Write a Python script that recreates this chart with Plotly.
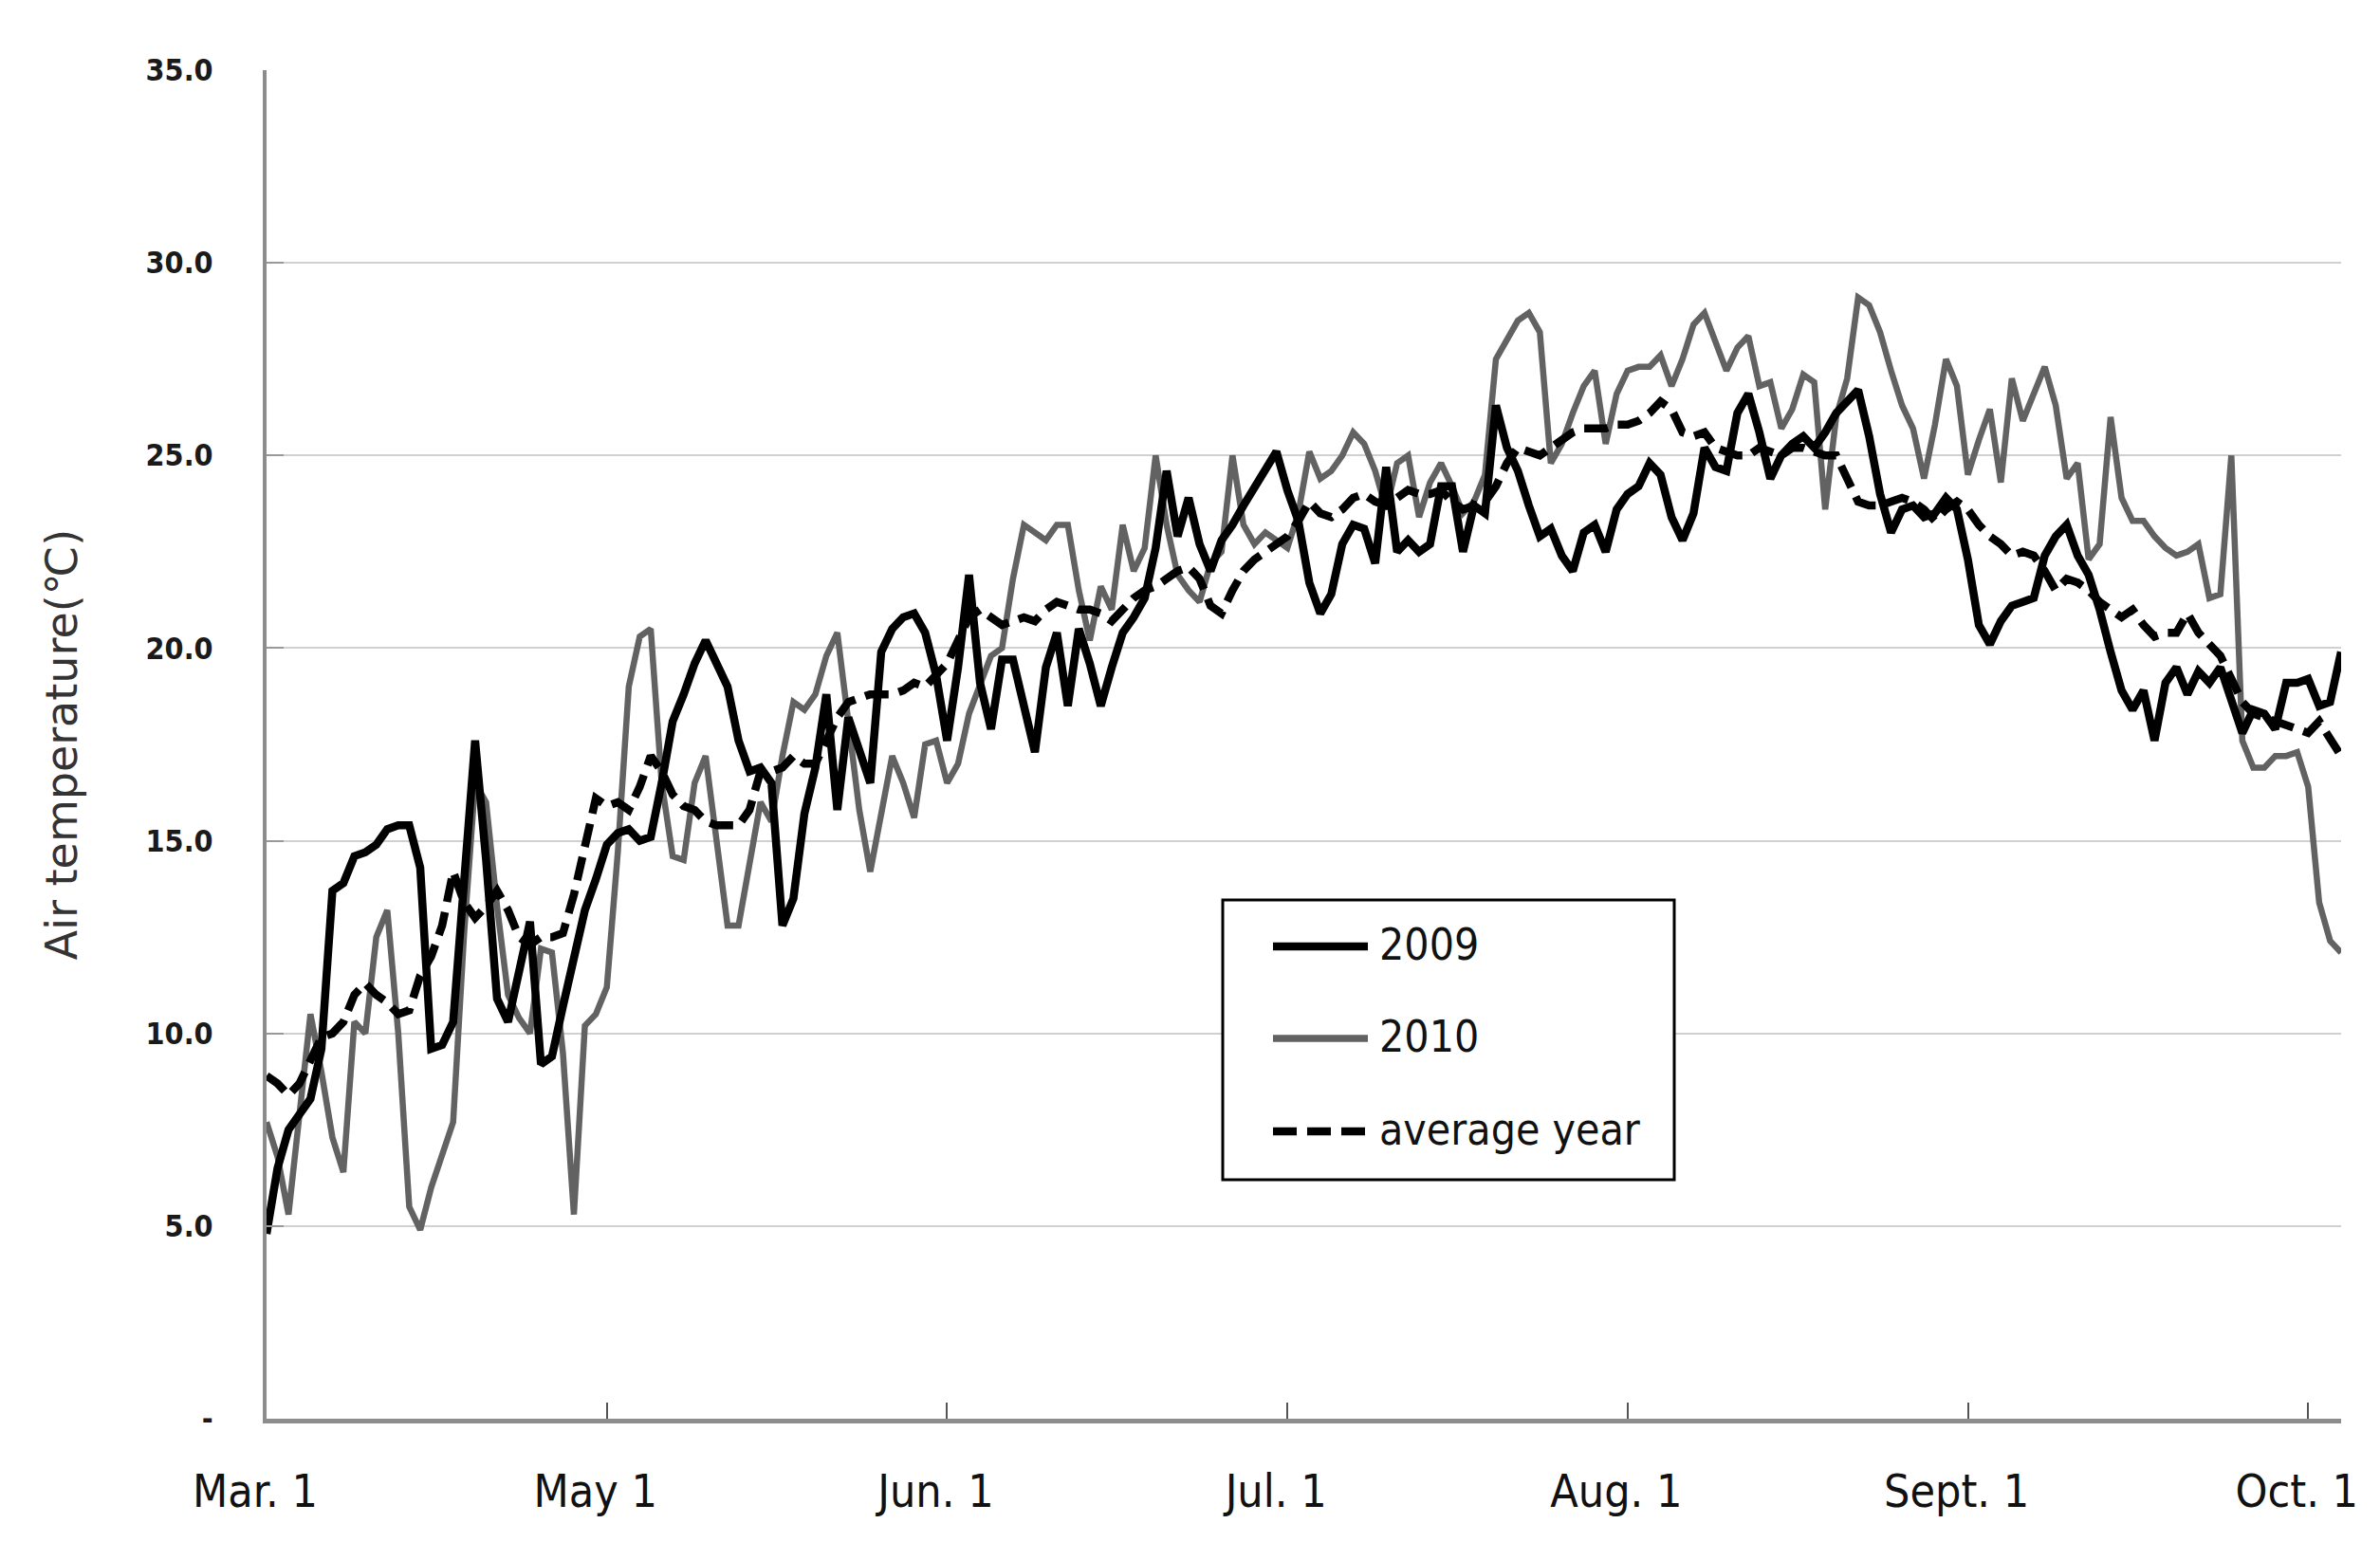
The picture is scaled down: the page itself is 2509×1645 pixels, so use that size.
import plotly.graph_objects as go

# ---------------- data ----------------
days = list(range(190))
x_tick_vals = [0, 31, 62, 93, 124, 155, 186]
x_tick_text = ["Mar. 1", "May 1", "Jun. 1", "Jul. 1", "Aug. 1", "Sept. 1", "Oct. 1"]
y_tick_vals = [0, 5, 10, 15, 20, 25, 30, 35]
y_tick_text = ["-", "5.0", "10.0", "15.0", "20.0", "25.0", "30.0", "35.0"]

t2009 = [
    4.8, 6.5, 7.5, 7.9, 8.3, 9.6, 13.7, 13.9, 14.6, 14.7,
    14.9, 15.3, 15.4, 15.4, 14.3, 9.6, 9.7, 10.3, 13.8, 17.6,
    14.5, 10.9, 10.3, 11.5, 12.9, 9.2, 9.4, 10.7, 12.0, 13.2,
    14.0, 14.9, 15.2, 15.3, 15.0, 15.1, 16.5, 18.1, 18.8, 19.6,
    20.2, 19.6, 19.0, 17.6, 16.8, 16.9, 16.5, 12.8, 13.5, 15.7,
    16.9, 18.8, 15.8, 18.2, 17.4, 16.5, 19.9, 20.5, 20.8, 20.9,
    20.4, 19.3, 17.6, 19.5, 21.9, 19.1, 17.9, 19.7, 19.7, 18.5,
    17.3, 19.5, 20.4, 18.5, 20.5, 19.6, 18.5, 19.5, 20.4, 20.8,
    21.3, 22.6, 24.6, 22.9, 23.9, 22.7, 22.0, 22.8, 23.2, 23.7,
    24.2, 24.6, 25.1, 24.1, 23.3, 21.7, 20.9, 21.4, 22.7, 23.2,
    23.1, 22.2, 24.7, 22.5, 22.8, 22.5, 22.7, 24.2, 24.2, 22.5,
    23.7, 23.5, 26.3, 25.2, 24.6, 23.7, 22.9, 23.1, 22.4, 22.0,
    23.0, 23.2, 22.5, 23.6, 24.0, 24.2, 24.8, 24.5, 23.4, 22.8,
    23.5, 25.2, 24.7, 24.6, 26.1, 26.6, 25.6, 24.4, 25.0, 25.3,
    25.5, 25.2, 25.6, 26.1, 26.4, 26.7, 25.5, 24.0, 23.0, 23.6,
    23.7, 23.4, 23.5, 23.9, 23.6, 22.3, 20.6, 20.1, 20.7, 21.1,
    21.2, 21.3, 22.4, 22.9, 23.2, 22.4, 21.9, 21.0, 19.9, 18.9,
    18.4, 18.9, 17.6, 19.1, 19.5, 18.8, 19.4, 19.1, 19.5, 18.6,
    17.8, 18.4, 18.3, 17.9, 19.1, 19.1, 19.2, 18.5, 18.6, 19.9,
]

t2010 = [
    7.7, 6.8, 5.3, 8.0, 10.5, 9.0, 7.3, 6.4, 10.3, 10.0,
    12.5, 13.2, 10.0, 5.5, 4.9, 6.0, 6.8, 7.7, 12.6, 16.5,
    16.0, 13.3, 11.0, 10.4, 10.0, 12.2, 12.1, 9.5, 5.3, 10.2,
    10.5, 11.2, 14.7, 19.0, 20.3, 20.5, 16.5, 14.6, 14.5, 16.5,
    17.2, 15.0, 12.8, 12.8, 14.5, 16.0, 15.5, 17.2, 18.6, 18.4,
    18.8, 19.8, 20.4, 18.0, 15.8, 14.2, 15.8, 17.2, 16.5, 15.6,
    17.5, 17.6, 16.5, 17.0, 18.3, 19.0, 19.8, 20.0, 21.8, 23.2,
    23.0, 22.8, 23.2, 23.2, 21.5, 20.2, 21.6, 21.0, 23.2, 22.0,
    22.6, 25.0, 23.2, 21.9, 21.5, 21.2, 22.2, 22.5, 25.0, 23.2,
    22.7, 23.0, 22.8, 22.6, 23.5, 25.1, 24.4, 24.6, 25.0, 25.6,
    25.3, 24.6, 23.6, 24.8, 25.0, 23.4, 24.3, 24.8, 24.2, 23.5,
    23.8, 24.5, 27.5, 28.0, 28.5, 28.7, 28.2, 24.8, 25.3, 26.1,
    26.8, 27.2, 25.3, 26.6, 27.2, 27.3, 27.3, 27.6, 26.8, 27.5,
    28.4, 28.7, 28.0, 27.2, 27.8, 28.1, 26.8, 26.9, 25.7, 26.2,
    27.1, 26.9, 23.6, 26.0, 27.0, 29.1, 28.9, 28.2, 27.2, 26.3,
    25.7, 24.4, 25.8, 27.5, 26.8, 24.5, 25.4, 26.2, 24.3, 27.0,
    25.9, 26.6, 27.3, 26.3, 24.4, 24.8, 22.3, 22.7, 26.0, 23.9,
    23.3, 23.3, 22.9, 22.6, 22.4, 22.5, 22.7, 21.3, 21.4, 25.0,
    17.6, 16.9, 16.9, 17.2, 17.2, 17.3, 16.4, 13.4, 12.4, 12.1,
]

t_avg = [
    8.9, 8.7, 8.4, 8.7, 9.3, 9.9, 10.0, 10.3, 11.0, 11.3,
    11.0, 10.8, 10.5, 10.6, 11.5, 12.0, 12.8, 14.2, 13.4, 13.0,
    13.3, 13.7, 13.2, 12.5, 12.3, 12.5, 12.5, 12.6, 13.6, 14.8,
    16.1, 15.9, 16.0, 15.8, 16.4, 17.2, 16.8, 16.2, 15.9, 15.8,
    15.5, 15.4, 15.4, 15.4, 15.8, 16.8, 16.8, 16.9, 17.2, 17.0,
    17.0, 17.6, 18.2, 18.6, 18.7, 18.8, 18.8, 18.8, 18.9, 19.1,
    19.0, 19.3, 19.6, 20.2, 20.8, 21.0, 20.8, 20.6, 20.7, 20.8,
    20.7, 21.0, 21.2, 21.1, 21.0, 21.0, 20.9, 20.7, 21.0, 21.3,
    21.5, 21.6, 21.8, 22.0, 22.1, 21.8, 21.1, 20.9, 21.5, 22.0,
    22.3, 22.5, 22.7, 22.9, 23.3, 23.8, 23.5, 23.4, 23.6, 23.9,
    24.0, 23.8, 23.7, 23.9, 24.1, 24.0, 24.0, 24.1, 23.8, 23.6,
    23.7, 23.8, 24.2, 24.8, 25.2, 25.1, 25.0, 25.2, 25.4, 25.6,
    25.7, 25.7, 25.7, 25.8, 25.8, 25.9, 26.1, 26.4, 26.2, 25.6,
    25.5, 25.6, 25.2, 25.1, 25.0, 25.0, 25.2, 25.1, 25.0, 25.2,
    25.2, 25.1, 25.0, 25.0, 24.4, 23.8, 23.7, 23.7, 23.8, 23.9,
    23.8, 23.6, 23.3, 23.6, 23.8, 23.6, 23.2, 22.9, 22.7, 22.4,
    22.5, 22.4, 22.0, 21.5, 21.8, 21.7, 21.5, 21.2, 21.0, 20.8,
    21.0, 20.6, 20.3, 20.4, 20.4, 20.9, 20.4, 20.1, 19.8, 19.2,
    18.6, 18.3, 18.2, 18.1, 18.0, 17.9, 17.8, 18.1, 17.6, 17.2,
]

series_names = ["2009", "2010", "average year"]

# ---------------- styling ----------------
W, H = 2509, 1645
ML, MR, MT, MB = 281, 41, 74, 149
COND = "DejaVu Sans Condensed, Liberation Sans Narrow, sans-serif"

C2009 = "#000000"
C2010 = "#626262"
CAVG = "#000000"
DASH = "25px,11px"

fig = go.Figure()
fig.add_trace(go.Scatter(x=days, y=t2010, mode="lines", name=series_names[1],
                         line=dict(color=C2010, width=6.5)))
fig.add_trace(go.Scatter(x=days, y=t2009, mode="lines", name=series_names[0],
                         line=dict(color=C2009, width=8.5)))
fig.add_trace(go.Scatter(x=days, y=t_avg, mode="lines", name=series_names[2],
                         line=dict(color=CAVG, width=8.5, dash=DASH)))

fig.update_layout(
    width=W, height=H,
    margin=dict(l=ML, r=MR, t=MT, b=MB),
    paper_bgcolor="white", plot_bgcolor="white",
    showlegend=False,
)

fig.update_xaxes(
    range=[0, 189], tickmode="array", tickvals=x_tick_vals, ticktext=x_tick_text,
    showgrid=False, zeroline=False,
    showline=True, linecolor="#8c8c8c", linewidth=5,
    ticks="inside", ticklen=17, tickwidth=2, tickcolor="#555555",
    tickfont=dict(family=COND, size=48, color="#111111"),
    ticklabelstandoff=30, ticklabelshift=-12,
)
fig.update_yaxes(
    range=[0, 35], tickmode="array", tickvals=y_tick_vals, ticktext=y_tick_text,
    showgrid=True, gridcolor="#d0d0d0", gridwidth=2, zeroline=False,
    showline=True, linecolor="#8c8c8c", linewidth=4,
    ticks="inside", ticklen=18, tickwidth=2, tickcolor="#999999",
    tickfont=dict(family=COND, size=32, color="#1a1a1a", weight="bold"),
    ticklabelstandoff=46,
    title=dict(text="Air temperature(℃)", standoff=58,
               font=dict(family="DejaVu Sans", size=46, color="#333333")),
)

# ---------------- legend (drawn box) ----------------
PW, PH = W - ML - MR, H - MT - MB


def px(xp):
    return (xp - ML) / PW


def py(yp):
    return (H - MB - yp) / PH


box = dict(x0=1289, x1=1765, y0=949, y1=1244)
fig.add_shape(type="rect", xref="paper", yref="paper",
              x0=px(box["x0"]), x1=px(box["x1"]), y0=py(box["y1"]), y1=py(box["y0"]),
              line=dict(color="black", width=3), fillcolor="white", layer="above")

rows = [(998, C2009, "solid", 8.5, series_names[0]),
        (1095, C2010, "solid", 7.5, series_names[1]),
        (1193, CAVG, DASH, 8.5, series_names[2])]
for yrow, col, dash, wid, label in rows:
    fig.add_shape(type="line", xref="paper", yref="paper",
                  x0=px(1342), x1=px(1442), y0=py(yrow), y1=py(yrow),
                  line=dict(color=col, width=wid, dash=dash), layer="above")
    fig.add_annotation(xref="paper", yref="paper", x=px(1452), y=py(yrow - 2),
                       text=label, showarrow=False, xanchor="left", yanchor="middle",
                       font=dict(family=COND, size=46, color="#111111"))

fig.write_html("out.html")
